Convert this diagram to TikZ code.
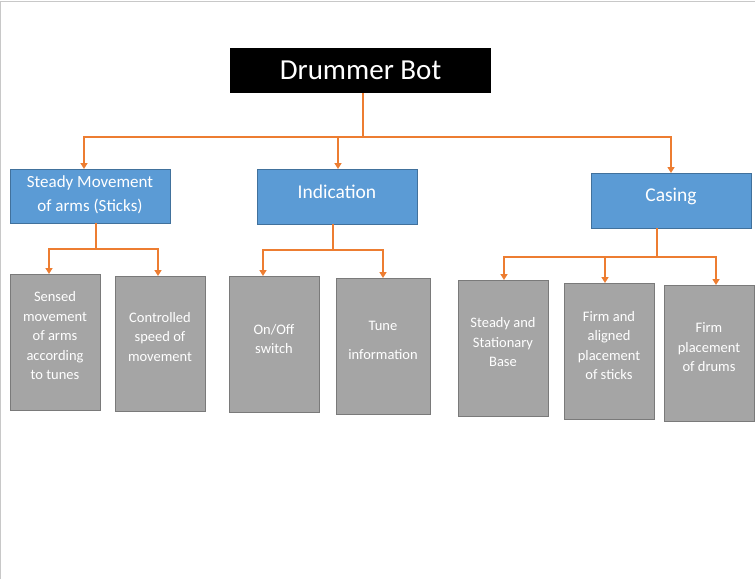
\documentclass[tikz,border=0pt]{standalone}
\usepackage{fontspec}
\setmainfont{Carlito}
\usetikzlibrary{arrows.meta}
\definecolor{bluefill}{HTML}{5B9BD5}
\definecolor{blueline}{HTML}{41719C}
\definecolor{grayfill}{HTML}{A5A5A5}
\definecolor{grayline}{HTML}{7A7A7A}
\definecolor{orangeline}{HTML}{ED7D31}
\definecolor{frameline}{HTML}{C8C8C8}
\begin{document}
\begin{tikzpicture}[x=1pt,y=-1pt,
  titlebox/.style={fill=black,draw=none,inner sep=0pt,outer sep=0pt},
  bluebox/.style={fill=bluefill,draw=blueline,line width=1pt,inner sep=0pt,outer sep=0pt},
  graybox/.style={fill=grayfill,draw=grayline,line width=1pt,inner sep=0pt,outer sep=0pt,minimum width=90pt,minimum height=136pt},
  btext/.style={text=white,align=center,inner sep=0pt},
  ctext/.style={text=white,align=center,inner sep=0pt,font=\fontsize{14.5}{19.5}\selectfont},
  conn/.style={draw=orangeline,line width=2pt},
  arr/.style={conn,-{Triangle[width=7pt,length=6pt]}}
]
\useasboundingbox (0,0) rectangle (755,579);
\draw[frameline,line width=1pt] (0.5,579) -- (0.5,1) -- (755,1);

% title
\node[titlebox,minimum width=261pt,minimum height=45pt] (title) at (360.5,70.5) {};
\node[text=white,inner sep=0pt,font=\fontsize{29}{35}\selectfont] (tt) at (360.5,70.5) {Drummer Bot};

% level 1
\node[bluebox,minimum width=160pt,minimum height=54pt] (b1) at (90,196) {};
\node[btext,font=\fontsize{17}{23.5}\selectfont] (tb1) at (90,195) {Steady Movement\\of arms (Sticks)};
\node[bluebox,minimum width=160pt,minimum height=55pt] (b2) at (337,196.5) {};
\node[btext,font=\fontsize{19.5}{24}\selectfont] (tb2) at (337,191.5) {Indication};
\node[bluebox,minimum width=160pt,minimum height=55pt] (b3) at (671,200.5) {};
\node[btext,font=\fontsize{19.5}{24}\selectfont] (tb3) at (671,196) {Casing};

% level 2
\node[graybox] (c11) at (55,342) {};
\node[ctext] (t11) at (55,336) {Sensed\\movement\\of arms\\according\\to tunes};
\node[graybox,minimum height=135pt] (c12) at (160,343.5) {};
\node[ctext] (t12) at (160,337) {Controlled\\speed of\\movement};
\node[graybox] (c21) at (274,344) {};
\node[ctext] (t21) at (274,339) {On/Off\\switch};
\node[graybox,minimum width=94pt] (c22) at (383,346) {};
\node[ctext] (t22) at (383,340.5) {Tune\\[9.5pt]information};
\node[graybox] (c31) at (503,348) {};
\node[ctext] (t31) at (503,342.5) {Steady and\\Stationary\\Base};
\node[graybox] (c32) at (609,351) {};
\node[ctext] (t32) at (609,345.5) {Firm and\\aligned\\placement\\of sticks};
\node[graybox] (c33) at (709,353) {};
\node[ctext] (t33) at (709,347.5) {Firm\\placement\\of drums};

% connectors: title
\coordinate (j0) at (363,137);
\draw[conn] (363,93) -- (j0);
\draw[arr] (j0) -| ([xshift=-6pt]b1.north);
\draw[arr] (j0) -| ([xshift=1pt]b2.north);
\draw[arr] (j0) -| (b3.north);

% connectors: b1
\coordinate (j1) at (96,249);
\draw[conn] (96,223) -- (j1);
\draw[arr] (j1) -| ([xshift=-6pt]c11.north);
\draw[arr] (j1) -| ([xshift=-2pt]c12.north);

% connectors: b2
\coordinate (j2) at (333,250);
\draw[conn] (333,224) -- (j2);
\draw[arr] (j2) -| ([xshift=-11pt]c21.north);
\draw[arr] (j2) -| (c22.north);

% connectors: b3
\coordinate (j3) at (657,257);
\draw[conn] (657,228) -- (j3);
\draw[arr] (j3) -| ([xshift=1pt]c31.north);
\draw[arr] (j3) -| ([xshift=-4pt]c32.north);
\draw[arr] (j3) -| ([xshift=7pt]c33.north);
\end{tikzpicture}
\end{document}
